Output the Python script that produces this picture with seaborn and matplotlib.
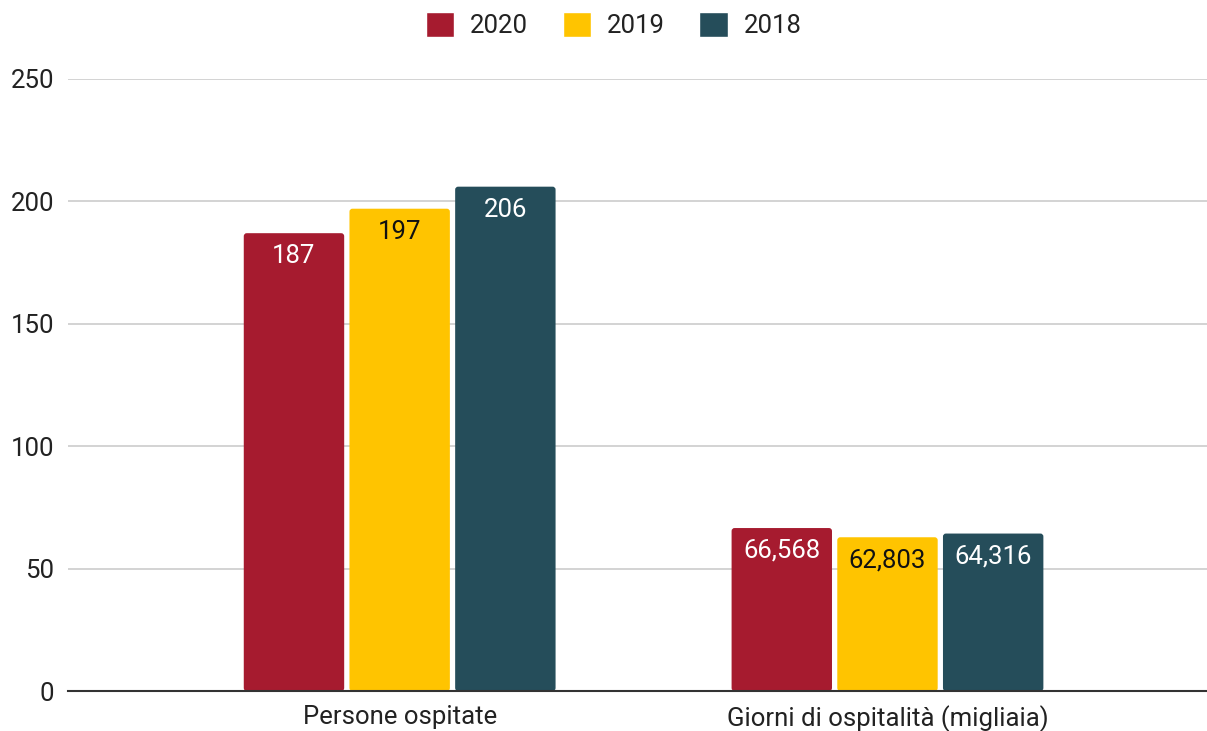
import matplotlib
matplotlib.use("Agg")
import matplotlib.pyplot as plt
from matplotlib.patches import FancyBboxPatch
import seaborn as sns
import pandas as pd

categories = ["Persone ospitate", "Giorni di ospitalità (migliaia)"]
years = ["2020", "2019", "2018"]
values_2020 = [187, 66.568]
values_2019 = [197, 62.803]
values_2018 = [206, 64.316]
labels_2020 = ["187", "66,568"]
labels_2019 = ["197", "62,803"]
labels_2018 = ["206", "64,316"]
y_ticks = [0, 50, 100, 150, 200, 250]

palette = ["#A61B2F", "#FFC400", "#254D5A"]
label_colors = ["white", "#111111", "white"]

rows = []
for year, vals in zip(years, [values_2020, values_2019, values_2018]):
    for cat, v in zip(categories, vals):
        rows.append({"categoria": cat, "anno": year, "valore": v})
df = pd.DataFrame(rows)

sns.set_theme(style="white")
plt.rcParams["font.family"] = ["Roboto", "DejaVu Sans"]

FS = 18.5
fig = plt.figure(figsize=(12.07, 7.31), dpi=100)
ax = fig.add_axes([0.0563, 0.0547, 0.9437, 0.8373])

sns.barplot(data=df, x="categoria", y="valore", hue="anno", hue_order=years,
            order=categories, palette=palette, width=0.65, gap=0.05,
            saturation=1, ax=ax, legend=True)

ax.set_ylim(0, 250)
ax.set_xlim(-0.68, 1.655)
ax.set_yticks(y_ticks)
ax.set_yticklabels([str(t) for t in y_ticks], fontsize=FS, color="#222222")
ax.set_xlabel("")
ax.set_ylabel("")
ax.tick_params(axis="x", labelsize=FS, colors="#222222", length=0, pad=10)
ax.tick_params(axis="y", length=0, pad=10)

ax.grid(axis="y", color="#CCCCCC", linewidth=1.2)
ax.set_axisbelow(True)
for s in ["top", "right", "left"]:
    ax.spines[s].set_visible(False)
ax.spines["bottom"].set_color("#333333")
ax.spines["bottom"].set_linewidth(1.5)
ax.spines["bottom"].set_zorder(5)

# Swap each bar for a rounded-corner box of the same geometry
fig.canvas.draw()
px_per_x = ax.transData.transform((1, 0))[0] - ax.transData.transform((0, 0))[0]
px_per_y = ax.transData.transform((0, 1))[1] - ax.transData.transform((0, 0))[1]
radius_px = 3.0
r_x = radius_px / px_per_x
aspect = (radius_px / px_per_y) / r_x
for container in ax.containers:
    for bar in container:
        rb = FancyBboxPatch((bar.get_x(), bar.get_y()), bar.get_width(), bar.get_height(),
                            boxstyle=f"round,pad=0,rounding_size={r_x}",
                            mutation_aspect=aspect, facecolor=bar.get_facecolor(),
                            edgecolor="none", zorder=bar.get_zorder())
        ax.add_patch(rb)
        bar.set_visible(False)

for container, labs, col in zip(ax.containers, [labels_2020, labels_2019, labels_2018], label_colors):
    for bar, text in zip(container, labs):
        x = bar.get_x() + bar.get_width() / 2
        y = bar.get_height()
        ax.annotate(text, (x, y), xytext=(0, -16.5), textcoords="offset points",
                    ha="center", va="center", fontsize=FS, color=col, zorder=6)

handles, lbls = ax.get_legend_handles_labels()
ax.legend(handles, lbls, loc="upper center", bbox_to_anchor=(0.479, 1.147),
          ncol=3, frameon=False, fontsize=FS, handlelength=1.1, handleheight=1.1,
          columnspacing=1.35, handletextpad=0.62, labelcolor="#222222")

fig.savefig("out.png", dpi=100, facecolor="white")
